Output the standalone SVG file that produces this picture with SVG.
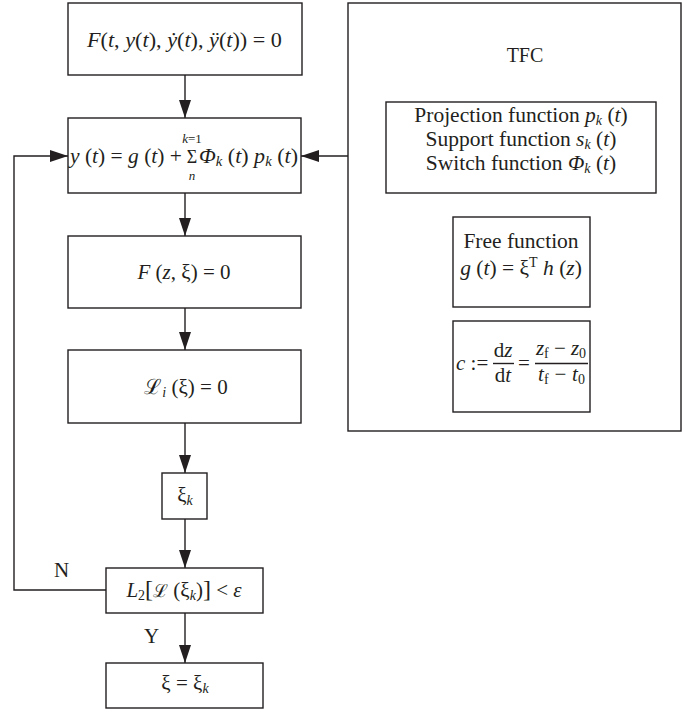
<svg xmlns="http://www.w3.org/2000/svg" width="682" height="712" viewBox="0 0 682 712">
<style>
.box{fill:#fff;stroke:#231f20;stroke-width:1.4}
.ln{fill:none;stroke:#231f20;stroke-width:1.4}
.t{font-family:"Liberation Serif","DejaVu Serif",serif;font-size:21px;fill:#231f20}
.r{font-size:21.5px}
.i{font-style:italic}
.s{font-size:14px}
.c{text-anchor:middle}
</style>
<defs>
<marker id="ah" viewBox="0 0 18 12" refX="18" refY="6" markerWidth="18" markerHeight="12" markerUnits="userSpaceOnUse" orient="auto">
<path d="M0,0 L18,6 L0,12 Z" fill="#231f20"/>
</marker>
</defs>
<rect width="682" height="712" fill="#fff"/>

<g id="tfc">
<rect class="box" x="348" y="3" width="333" height="428"/>
<text class="t c" x="525" y="62" style="font-size:20px">TFC</text>
</g>
<g id="basis">
<rect class="box" x="386" y="102" width="270" height="91"/>
<text class="t r c" x="521" y="122">Projection function <tspan class="i">p</tspan><tspan class="i s" dy="3">k</tspan><tspan dy="-3"> (</tspan><tspan class="i">t</tspan>)</text>
<text class="t r c" x="521" y="146">Support function <tspan class="i">s</tspan><tspan class="i s" dy="3">k</tspan><tspan dy="-3"> (</tspan><tspan class="i">t</tspan>)</text>
<text class="t r c" x="521" y="170">Switch function <tspan class="i">Φ</tspan><tspan class="i s" dy="3">k</tspan><tspan dy="-3"> (</tspan><tspan class="i">t</tspan>)</text>
</g>
<g id="free">
<rect class="box" x="453" y="217" width="137" height="90"/>
<text class="t r c" x="521" y="248">Free function</text>
<text class="t r c" x="521" y="275"><tspan class="i">g</tspan> (<tspan class="i">t</tspan>) = ξ<tspan class="s" dy="-8">T</tspan><tspan dy="8"> </tspan><tspan class="i">h</tspan> (<tspan class="i">z</tspan>)</text>
</g>
<g id="mapping">
<rect class="box" x="453" y="321" width="137" height="91"/>
<text class="t" x="456" y="370"><tspan class="i">c</tspan> :=</text>
<text class="t c" x="503" y="357">d<tspan class="i">z</tspan></text>
<line class="ln" x1="493" y1="363.5" x2="514" y2="363.5" stroke-width="1"/>
<text class="t c" x="503" y="382">d<tspan class="i">t</tspan></text>
<text class="t" x="518" y="370">=</text>
<text class="t" x="536" y="355" textLength="50" lengthAdjust="spacing"><tspan class="i">z</tspan><tspan class="s" dy="3">f</tspan><tspan dy="-3"> − </tspan><tspan class="i">z</tspan><tspan class="s" dy="3">0</tspan></text>
<line class="ln" x1="535" y1="363.5" x2="588" y2="363.5" stroke-width="1"/>
<text class="t" x="538" y="381" textLength="47" lengthAdjust="spacing"><tspan class="i">t</tspan><tspan class="s" dy="3">f</tspan><tspan dy="-3"> − </tspan><tspan class="i">t</tspan><tspan class="s" dy="3">0</tspan></text>
</g>

<g id="ode">
<rect class="box" x="68" y="3" width="234" height="72"/>
<text class="t" x="87" y="47" textLength="195" lengthAdjust="spacingAndGlyphs"><tspan class="i">F</tspan>(<tspan class="i">t</tspan>, <tspan class="i">y</tspan>(<tspan class="i">t</tspan>), <tspan class="i">ẏ</tspan>(<tspan class="i">t</tspan>), <tspan class="i">ÿ</tspan>(<tspan class="i">t</tspan>)) = 0</text>
</g>
<g id="expr">
<rect class="box" x="68" y="118" width="233" height="75"/>
<text class="t" x="70" y="163" textLength="112" lengthAdjust="spacingAndGlyphs"><tspan class="i">y</tspan> (<tspan class="i">t</tspan>) = <tspan class="i">g</tspan> (<tspan class="i">t</tspan>) +</text>
<text class="t c" x="192" y="163" style="font-size:18px">Σ</text>
<text class="t c i" x="192" y="143" style="font-size:13px">k<tspan style="font-style:normal">=1</tspan></text>
<text class="t c i" x="192" y="180" style="font-size:13px">n</text>
<text class="t" x="199" y="163" textLength="99" lengthAdjust="spacingAndGlyphs"><tspan class="i">Φ</tspan><tspan class="i s" dy="3">k</tspan><tspan dy="-3"> (</tspan><tspan class="i">t</tspan>) <tspan class="i">p</tspan><tspan class="i s" dy="3">k</tspan><tspan dy="-3"> (</tspan><tspan class="i">t</tspan>)</text>
</g>
<g id="residual">
<rect class="box" x="68" y="236" width="233" height="72"/>
<text class="t c" x="184" y="279"><tspan class="i">F</tspan> (<tspan class="i">z</tspan>, ξ) = 0</text>
</g>
<g id="loss">
<rect class="box" x="68" y="350" width="233" height="73"/>
<text class="t c" x="186" y="394">ℒ<tspan class="i s" dy="3">i</tspan><tspan dy="-3"> (ξ) = 0</tspan></text>
</g>
<g id="xik">
<rect class="box" x="162" y="473" width="45" height="46"/>
<text class="t c" x="185" y="502">ξ<tspan class="i s" dy="3">k</tspan></text>
</g>
<g id="check">
<rect class="box" x="106" y="568" width="157" height="45"/>
<text class="t c" x="184" y="597"><tspan class="i">L</tspan><tspan class="s" dy="3">2</tspan><tspan dy="-3" style="font-size:24px">[</tspan><tspan style="font-size:18px">ℒ</tspan> (ξ<tspan class="i s" dy="3">k</tspan><tspan dy="-3">)</tspan><tspan style="font-size:24px">]</tspan> &lt; <tspan class="i">ε</tspan></text>
</g>
<g id="result">
<rect class="box" x="106" y="663" width="157" height="45"/>
<text class="t c" x="185" y="690">ξ = ξ<tspan class="i s" dy="3">k</tspan></text>
</g>

<g id="connectors">
<line class="ln" x1="185" y1="75" x2="185" y2="118" marker-end="url(#ah)"/>
<line class="ln" x1="185" y1="193" x2="185" y2="236" marker-end="url(#ah)"/>
<line class="ln" x1="185" y1="308" x2="185" y2="350" marker-end="url(#ah)"/>
<line class="ln" x1="185" y1="423" x2="185" y2="473" marker-end="url(#ah)"/>
<line class="ln" x1="185" y1="519" x2="185" y2="568" marker-end="url(#ah)"/>
<line class="ln" x1="185" y1="613" x2="185" y2="663" marker-end="url(#ah)"/>
<line class="ln" x1="348" y1="156" x2="301" y2="156" marker-end="url(#ah)"/>
<polyline class="ln" points="106,590 14,590 14,156 68,156" marker-end="url(#ah)"/>
<text class="t" x="54" y="577">N</text>
<text class="t" x="144" y="643">Y</text>
</g>
</svg>
